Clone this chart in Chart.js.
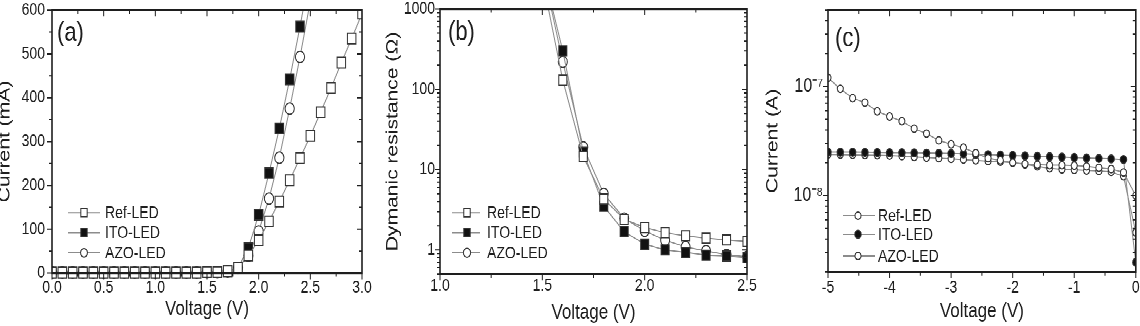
<!DOCTYPE html>
<html>
<head>
<meta charset="utf-8">
<script src="https://cdn.jsdelivr.net/npm/chart.js@4.4.0/dist/chart.umd.min.js"></script>
<style>
  html { overflow: hidden; }
  body { margin: 0; padding: 0; background: #fff; width: 1140px; height: 326px; }
  /* the source figure is stretched vertically, so draw flat and stretch */
  #fig { position: relative; width: 1140px; height: 263px; transform: scaleY(1.2395); transform-origin: 0 0; }
  #fig canvas { position: absolute; top: 0; }
</style>
</head>
<body>
<div id="fig">
  <canvas id="chartA" width="380" height="263" style="left:0"></canvas>
  <canvas id="chartB" width="380" height="263" style="left:380px"></canvas>
  <canvas id="chartC" width="380" height="263" style="left:760px"></canvas>
</div>
<script>
const seriesNames = ["Ref-LED", "ITO-LED", "AZO-LED"];

// (a) forward current (mA) vs voltage
const voltA = [0.0, 0.1, 0.2, 0.3, 0.4, 0.5, 0.6, 0.7, 0.8, 0.9, 1.0, 1.1, 1.2, 1.3, 1.4, 1.5,
               1.6, 1.7, 1.8, 1.9, 2.0, 2.1, 2.2, 2.3, 2.4, 2.5, 2.6, 2.7, 2.8, 2.9, 3.0];
const refA = [1, 1, 1, 1, 1, 1, 1, 1, 1, 1, 1, 1, 1, 1, 1, 2, 2, 4, 12, 40, 75, 118, 163, 212, 262, 313, 367, 422, 480, 535, 592];
const itoA = [1, 1, 1, 1, 1, 1, 1, 1, 1, 1, 1, 1, 1, 1, 1, 2, 2, 4, 12, 57, 133, 228, 330, 442, 562, 690];
const azoA = [1, 1, 1, 1, 1, 1, 1, 1, 1, 1, 1, 1, 1, 1, 1, 2, 2, 4, 12, 40, 95, 170, 263, 375, 493, 620];

// (b) dynamic resistance (ohm) vs voltage
const voltB = [1.5, 1.6, 1.7, 1.8, 1.9, 2.0, 2.1, 2.2, 2.3, 2.4, 2.5];
const refB = [2400, 130, 14.5, 4.3, 2.4, 1.9, 1.64, 1.5, 1.4, 1.33, 1.27];
const itoB = [3300, 300, 16.5, 3.5, 1.68, 1.18, 1.0, 0.93, 0.86, 0.84, 0.8];
const azoB = [3300, 220, 19, 5.0, 2.46, 1.73, 1.32, 1.09, 0.97, 0.87, 0.82];

// (c) reverse current (A) vs voltage
const voltC = [-5, -4.8, -4.6, -4.4, -4.2, -4, -3.8, -3.6, -3.4, -3.2, -3, -2.8, -2.6,
               -2.4, -2.2, -2, -1.8, -1.6, -1.4, -1.2, -1, -0.8, -0.6, -0.4, -0.2, 0];
const refC = [1.2e-7, 9.5e-8, 7.8e-8, 7.1e-8, 5.9e-8, 5.3e-8, 4.8e-8, 4.1e-8, 3.7e-8, 3.2e-8, 2.95e-8, 2.75e-8, 2.45e-8,
              2.2e-8, 2.1e-8, 2.0e-8, 1.95e-8, 1.92e-8, 1.9e-8, 1.9e-8, 1.88e-8, 1.85e-8, 1.8e-8, 1.75e-8, 1.63e-8, 1.0e-8];
const itoC = [2.5e-8, 2.5e-8, 2.5e-8, 2.49e-8, 2.48e-8, 2.47e-8, 2.47e-8, 2.46e-8, 2.45e-8, 2.44e-8, 2.43e-8, 2.41e-8, 2.39e-8,
              2.37e-8, 2.35e-8, 2.33e-8, 2.31e-8, 2.29e-8, 2.27e-8, 2.25e-8, 2.23e-8, 2.21e-8, 2.19e-8, 2.17e-8, 2.14e-8, 2.45e-9];
const azoC = [2.38e-8, 2.37e-8, 2.36e-8, 2.35e-8, 2.34e-8, 2.33e-8, 2.3e-8, 2.26e-8, 2.23e-8, 2.2e-8, 2.17e-8, 2.14e-8, 2.1e-8,
              2.07e-8, 2.04e-8, 2.0e-8, 1.93e-8, 1.85e-8, 1.78e-8, 1.74e-8, 1.72e-8, 1.7e-8, 1.68e-8, 1.65e-8, 1.5e-8, 4.6e-9];

// labelled ticks
const ticksAX = [0, 0.5, 1, 1.5, 2, 2.5, 3];
const ticksAY = [0, 100, 200, 300, 400, 500, 600];
const ticksBX = [1, 1.5, 2, 2.5];
const ticksBY = [1, 10, 100, 1000];
const ticksCX = [-5, -4, -3, -2, -1, 0];
const ticksCY = [1e-8, 1e-7];

const FONT = '"Liberation Sans", Arial, sans-serif';
const INK = "#1e1e1e";
const LINE = "#8c8c8c";

function pts(xs, ys) {
  return ys.map((y, i) => ({ x: xs[i], y: y }));
}

function isMajor(majors, v) {
  return majors.some(m => Math.abs(m - v) <= Math.abs(m) * 1e-9 + 1e-12);
}

// majors plus one minor tick between each pair
function withHalves(majors) {
  const out = [];
  majors.forEach((v, i) => {
    out.push(v);
    if (i < majors.length - 1) out.push((v + majors[i + 1]) / 2);
  });
  return out;
}

// 1..9 x 10^n between min and max
function withLogMinors(min, max) {
  const out = [];
  for (let e = Math.floor(Math.log10(min)); e <= Math.floor(Math.log10(max)); e++) {
    for (let k = 1; k <= 9; k++) {
      const v = Number((k * Math.pow(10, e)).toPrecision(6));
      if (v >= min * 0.999 && v <= max * 1.001) out.push(v);
    }
  }
  return out;
}

const SUP = { "-": "\u207B", "0": "\u2070", "1": "\u00B9", "2": "\u00B2", "3": "\u00B3", "4": "\u2074",
              "5": "\u2075", "6": "\u2076", "7": "\u2077", "8": "\u2078", "9": "\u2079" };
function pow10Label(v) {
  const e = String(Math.round(Math.log10(v)));
  return "10" + e.split("").map(c => SUP[c]).join("");
}

function axis(dir, type, min, max, majors, list, fmt, title, g) {
  return {
    type: type, min: min, max: max,
    grid: { display: false, drawTicks: false },
    border: { display: false },
    ticks: {
      autoSkip: false, maxRotation: 0, minRotation: 0, padding: g.pad, color: INK,
      font: { family: FONT, size: g.font || 14 },
      callback: v => isMajor(majors, v) ? fmt(v) : ""
    },
    title: {
      display: true, text: title, color: INK,
      font: { family: FONT, size: 17 },
      padding: dir === "x" ? { top: 0, bottom: g.titlePad } : { top: g.titlePad, bottom: 0 }
    },
    afterBuildTicks: s => { s.ticks = list.map(v => ({ value: v })); },
    afterFit: s => {
      if (dir === "x") s.height = g.size; else s.width = g.size;
      s.paddingLeft = 0; s.paddingRight = 0; s.paddingTop = 0; s.paddingBottom = 0;
    }
  };
}

function drawMarker(ctx, style, x, y, r, fill, stroke) {
  ctx.beginPath();
  if (style === "rect") {
    const s = r * Math.SQRT1_2;
    ctx.rect(x - s, y - s, 2 * s, 2 * s);
  } else {
    ctx.arc(x, y, r, 0, Math.PI * 2);
  }
  ctx.fillStyle = fill;
  ctx.fill();
  ctx.lineWidth = 1;
  ctx.strokeStyle = stroke;
  ctx.stroke();
}

// box, Origin-like ticks, panel letter and legend
const frame = {
  id: "frame",
  afterDatasetsDraw(chart, args, o) {
    const { ctx, chartArea: a, scales } = chart;
    ctx.save();
    ctx.strokeStyle = INK;
    ctx.lineWidth = 1;
    ctx.beginPath();
    scales.x.ticks.forEach(t => {
      const p = scales.x.getPixelForValue(t.value);
      if (p < a.left - 0.5 || p > a.right + 0.5) return;
      const len = t.label ? 5 : 3;
      ctx.moveTo(p, a.bottom); ctx.lineTo(p, a.bottom + len);
      ctx.moveTo(p, a.top); ctx.lineTo(p, a.top + len);
    });
    scales.y.ticks.forEach(t => {
      const p = scales.y.getPixelForValue(t.value);
      if (p < a.top - 0.5 || p > a.bottom + 0.5) return;
      const len = t.label ? 5 : 3;
      ctx.moveTo(a.left - len, p); ctx.lineTo(a.left, p);
      ctx.moveTo(a.right, p); ctx.lineTo(a.right - len, p);
    });
    ctx.stroke();
    ctx.lineWidth = 1.6;
    ctx.strokeRect(a.left, a.top, a.right - a.left, a.bottom - a.top);

    ctx.fillStyle = INK;
    ctx.textBaseline = "middle";
    ctx.textAlign = "left";
    ctx.font = "22px " + FONT;
    ctx.fillText(o.label, o.labelX, o.labelY);

    ctx.font = "14px " + FONT;
    chart.data.datasets.forEach((ds, i) => {
      const y = o.legendY[i];
      ctx.strokeStyle = ds.borderColor;
      ctx.lineWidth = 1;
      ctx.beginPath();
      ctx.moveTo(o.legendX[0], y);
      ctx.lineTo(o.legendX[1], y);
      ctx.stroke();
      drawMarker(ctx, ds.pointStyle, o.legendX[2], y, ds.pointRadius * o.legendScale,
                 ds.pointBackgroundColor, ds.pointBorderColor);
      ctx.fillStyle = INK;
      ctx.fillText(ds.label, o.legendX[3], y + 0.5);
    });
    ctx.restore();
  }
};

function series(label, data, style, r, filled, clip) {
  const ds = {
    label: label, data: data,
    borderColor: LINE, borderWidth: 1, tension: 0,
    pointStyle: style, pointRadius: r, pointHoverRadius: r,
    pointBorderColor: "#333", pointBorderWidth: 1,
    pointBackgroundColor: filled ? "#111" : "#fff"
  };
  if (clip) ds.clip = clip;
  return ds;
}

function makeChart(id, datasets, scales, padding, frameOpts) {
  return new Chart(document.getElementById(id), {
    type: "line",
    data: { datasets: datasets },
    options: {
      responsive: false, animation: false, devicePixelRatio: 2,
      layout: { padding: padding },
      events: [],
      scales: scales,
      plugins: { legend: { display: false }, tooltip: { enabled: false }, frame: frameOpts }
    },
    plugins: [frame]
  });
}

const clipA = { left: 0, top: 0, right: 0, bottom: 8 };

makeChart("chartA", [
  series(seriesNames[0], pts(voltA, refA), "rect", 6, false, clipA),
  series(seriesNames[1], pts(voltA, itoA), "rect", 6, true, clipA),
  series(seriesNames[2], pts(voltA, azoA), "circle", 4.6, false, clipA)
], {
  x: axis("x", "linear", 0, 3, ticksAX, withHalves(ticksAX), v => v.toFixed(1), "Voltage (V)",
          { pad: 3.5, titlePad: 3.5, size: 42.7 }),
  y: axis("y", "linear", 0, 600, ticksAY, withHalves(ticksAY), v => String(v), "Current (mA)",
          { pad: 7, titlePad: -5.2, size: 52 })
}, { top: 8.1, right: 18, left: 0, bottom: 0 }, {
  label: "(a)", labelX: 57, labelY: 27, legendScale: 0.75,
  legendX: [68, 100, 84, 105], legendY: [171.6, 187.7, 203.9]
});

makeChart("chartB", [
  series(seriesNames[0], pts(voltB, refB), "rect", 5.7, false),
  series(seriesNames[1], pts(voltB, itoB), "rect", 5.7, true),
  series(seriesNames[2], pts(voltB, azoB), "circle", 4.5, false)
], {
  x: axis("x", "linear", 1, 2.5, ticksBX, withHalves(ticksBX), v => v.toFixed(1), "Voltage (V)",
          { pad: 1, titlePad: 0.5, size: 41.9 }),
  y: axis("y", "logarithmic", 0.5, 1000, ticksBY, withLogMinors(0.5, 1000), v => String(v), "Dymanic resistance (\u03A9)",
          { pad: 5, titlePad: 2.8, size: 60 })
}, { top: 7.3, right: 13, left: 0, bottom: 0 }, {
  label: "(b)", labelX: 68, labelY: 26.2, legendScale: 0.8,
  legendX: [72, 100, 87, 107], legendY: [171.6, 187.7, 203.9]
});

makeChart("chartC", [
  series(seriesNames[0], pts(voltC, refC), "circle", 3, false),
  series(seriesNames[1], pts(voltC, itoC), "circle", 3.2, true),
  series(seriesNames[2], pts(voltC, azoC), "circle", 3, false)
], {
  x: axis("x", "linear", -5, 0, ticksCX, withHalves(ticksCX), v => String(v), "Voltage (V)",
          { pad: 4.5, titlePad: 1.3, size: 43.6 }),
  y: axis("y", "logarithmic", 2e-9, 5e-7, ticksCY, withLogMinors(2e-9, 5e-7), pow10Label, "Current (A)",
          { pad: 5, titlePad: 2.8, size: 68, font: 16 })
}, { top: 8.1, right: 4, left: 0, bottom: 0 }, {
  label: "(c)", labelX: 75, labelY: 31.5, legendScale: 1,
  legendX: [83, 115, 98, 118], legendY: [174, 189, 206.5]
});
</script>
</body>
</html>
